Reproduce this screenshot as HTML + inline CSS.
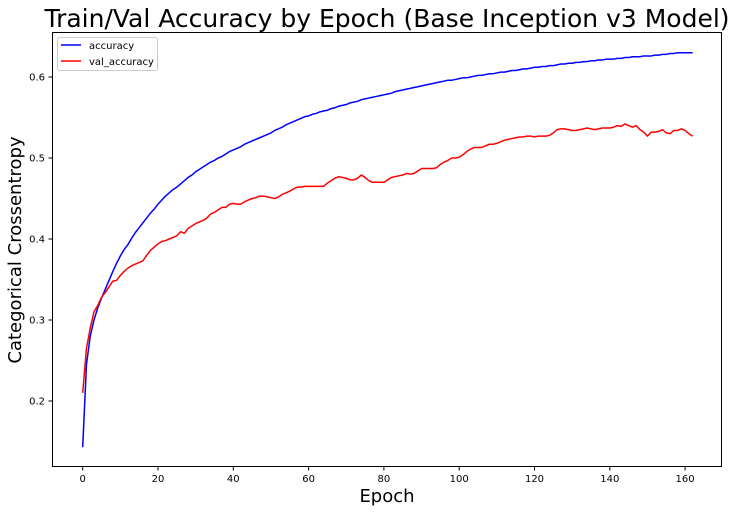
<!DOCTYPE html>
<html><head><meta charset="utf-8"><style>
html,body{margin:0;padding:0;background:#fff;}
svg{display:block;font-family:"DejaVu Sans","Liberation Sans",sans-serif;}
</style></head><body>
<svg id="chart" width="737" height="513" viewBox="0 0 737 513" xmlns="http://www.w3.org/2000/svg">
<rect width="737" height="513" fill="#fff"/>
<text x="387" y="27" font-size="25" text-anchor="middle" fill="#000">Train/Val Accuracy by Epoch (Base Inception v3 Model)</text>
<text x="387" y="502" font-size="18" text-anchor="middle" fill="#000">Epoch</text>
<text transform="translate(21,250) rotate(-90)" font-size="18" text-anchor="middle" fill="#000">Categorical Crossentropy</text>
<g id="ticks"></g>
<g id="series"></g>
<rect x="52.5" y="32.5" width="669" height="434" fill="none" stroke="#000" stroke-width="1"/>
<g>
<rect x="57.5" y="37.5" width="100" height="33" rx="2" fill="#fff" fill-opacity="0.8" stroke="#ccc"/>
<line x1="61" y1="45" x2="81" y2="45" stroke="#0000ff" stroke-width="1.5"/>
<text x="89" y="49" font-size="10">accuracy</text>
<line x1="61" y1="61" x2="81" y2="61" stroke="#ff0000" stroke-width="1.5"/>
<text x="89" y="65" font-size="10">val_accuracy</text>
</g>
</svg>
<script>
const xTicks = [0, 20, 40, 60, 80, 100, 120, 140, 160];
const yTicks = [0.2, 0.3, 0.4, 0.5, 0.6];
const yTickLabels = ["0.2", "0.3", "0.4", "0.5", "0.6"];
const accuracy = [
.143,.245,.280,.300,.315,.327,.338,.349,.360,.370,
.379,.387,.393,.401,.408,.414,.420,.426,.432,.437,
.443,.448,.453,.457,.461,.464,.468,.472,.476,.479,
.483,.486,.489,.492,.495,.497,.500,.502,.505,.508,
.510,.512,.514,.517,.519,.521,.523,.525,.527,.529,
.531,.534,.536,.538,.541,.543,.545,.547,.549,.551,
.552,.554,.555,.557,.558,.559,.561,.562,.564,.565,
.566,.568,.569,.570,.572,.573,.574,.575,.576,.577,
.578,.579,.580,.582,.583,.584,.585,.586,.587,.588,
.589,.590,.591,.592,.593,.594,.595,.596,.596,.597,
.598,.599,.599,.600,.601,.602,.602,.603,.604,.604,
.605,.606,.606,.607,.608,.608,.609,.610,.610,.611,
.612,.612,.613,.613,.614,.614,.615,.616,.616,.617,
.617,.618,.618,.619,.619,.620,.620,.621,.621,.622,
.622,.622,.623,.623,.624,.624,.625,.625,.625,.626,
.626,.626,.627,.627,.628,.628,.629,.629,.630,.630,
.630,.630,.630];
const valAccuracy = [
.210,.265,.290,.310,.318,.328,.334,.341,.348,.349,
.355,.360,.364,.367,.369,.371,.373,.380,.386,.390,
.394,.397,.398,.400,.402,.404,.409,.407,.413,.416,
.419,.421,.423,.426,.431,.433,.436,.439,.439,.443,
.444,.443,.443,.446,.448,.450,.451,.453,.453,.452,
.451,.450,.452,.455,.457,.459,.462,.464,.464,.465,
.465,.465,.465,.465,.465,.469,.472,.475,.477,.476,
.475,.473,.473,.475,.479,.476,.472,.470,.470,.470,
.470,.473,.476,.477,.478,.479,.481,.480,.481,.484,
.487,.487,.487,.487,.488,.492,.495,.497,.500,.500,
.501,.504,.508,.511,.513,.513,.513,.515,.517,.517,
.518,.520,.522,.523,.524,.525,.526,.526,.527,.527,
.526,.527,.527,.527,.528,.531,.535,.536,.536,.535,
.534,.534,.535,.536,.537,.536,.535,.536,.537,.537,
.537,.538,.540,.539,.542,.540,.538,.540,.535,.532,
.527,.532,.532,.533,.535,.531,.530,.534,.534,.536,
.534,.530,.527];

const X0 = 82.7, XS = 3.765;
const Y06 = 77, YS = 810;
function xScale(e){ return X0 + e * XS; }
function yScale(v){ return Y06 + (0.6 - v) * YS; }
const NS = "http://www.w3.org/2000/svg";
const tg = document.getElementById('ticks');
xTicks.forEach(t => {
  const x = xScale(t);
  const l = document.createElementNS(NS, 'line');
  l.setAttribute('x1', x); l.setAttribute('x2', x); l.setAttribute('y1', 467); l.setAttribute('y2', 470.5);
  l.setAttribute('stroke', '#000');
  
  
  tg.appendChild(l);
  const tx = document.createElementNS(NS, 'text');
  tx.setAttribute('x', x); tx.setAttribute('y', 482); tx.setAttribute('font-size', '10'); tx.setAttribute('text-anchor', 'middle');
  tx.textContent = String(t);
  
  
  tg.appendChild(tx);
});
yTicks.forEach((t, i) => {
  const y = yScale(t);
  const l = document.createElementNS(NS, 'line');
  l.setAttribute('x1', 48.5); l.setAttribute('x2', 52); l.setAttribute('y1', y); l.setAttribute('y2', y);
  l.setAttribute('stroke', '#000');
  
  
  tg.appendChild(l);
  const tx = document.createElementNS(NS, 'text');
  tx.setAttribute('x', 45); tx.setAttribute('y', y + 3.5); tx.setAttribute('font-size', '10'); tx.setAttribute('text-anchor', 'end');
  tx.textContent = yTickLabels[i];
  
  
  tg.appendChild(tx);
});
const sg = document.getElementById('series');
function drawLine(vals, color, name){
  const p = document.createElementNS(NS, 'polyline');
  p.setAttribute('points', vals.map((v, i) => xScale(i).toFixed(2) + ',' + yScale(v).toFixed(2)).join(' '));
  p.setAttribute('fill', 'none'); p.setAttribute('stroke', color); p.setAttribute('stroke-width', '1.5');
  p.setAttribute('stroke-linejoin', 'round');
  
  
  sg.appendChild(p);
}
drawLine(accuracy, '#0000ff', 'accuracy-line');
drawLine(valAccuracy, '#ff0000', 'val-accuracy-line');
</script>
</body></html>
